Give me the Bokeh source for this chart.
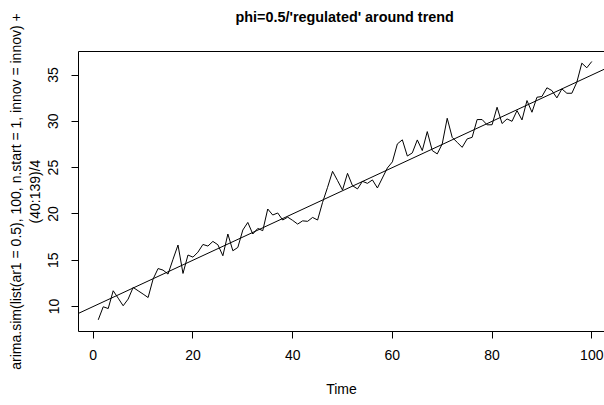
from bokeh.plotting import figure
from bokeh.models import Range1d, FixedTicker, LinearAxis, Title
from bokeh.embed import file_html
from bokeh.resources import INLINE

t = list(range(1, 101))
series = [8.56, 9.97, 9.78, 11.7, 10.9, 10.08, 10.8, 12.06, 11.7, 11.34,
          10.97, 12.96, 14.1, 13.93, 13.5, 15.1, 16.64, 13.57, 15.56, 15.33,
          15.87, 16.7, 16.53, 17.03, 16.67, 15.48, 17.83, 16.02, 16.38, 18.26,
          19.08, 17.83, 18.43, 18.19, 20.53, 19.88, 20.1, 19.34, 19.65, 19.3,
          18.9, 19.25, 19.2, 19.62, 19.34, 21.25, 22.87, 24.6, 23.6, 22.58,
          24.38, 23.05, 22.7, 23.52, 23.3, 23.67, 22.8, 23.88, 24.96, 25.62,
          27.56, 28.0, 26.25, 26.59, 27.99, 26.84, 28.89, 26.84, 26.48, 27.56,
          30.33, 28.27, 27.73, 27.19, 28.1, 28.27, 30.19, 30.19, 29.62, 29.63,
          31.52, 29.76, 30.26, 30.0, 31.16, 30.15, 32.24, 30.98, 32.6, 32.68,
          33.62, 33.32, 32.53, 33.5, 33.03, 33.03, 34.22, 36.28, 35.78, 36.46]
trend_intercept = 10.0
trend_slope = 0.25
x_ticks = [0, 20, 40, 60, 80, 100]
y_ticks = [10, 15, 20, 25, 30, 35]
title_text = "phi=0.5/'regulated' around trend"
x_label = "Time"
y_label_1 = "arima.sim(list(ar1 = 0.5), 100, n.start = 1, innov = innov) +"
y_label_2 = "(40:139)/4"

FONT = "Liberation Sans"
FS = "14px"

p = figure(width=604, height=405, output_backend="svg", toolbar_location=None,
           x_range=Range1d(-2.96, 102.55), y_range=Range1d(7.3, 37.54),
           min_border_left=78, min_border_right=0, min_border_top=51,
           min_border_bottom=74)
p.background_fill_color = "white"
p.border_fill_color = "white"
p.outline_line_color = None
p.xgrid.visible = False
p.ygrid.visible = False

for ax in (p.xaxis[0], p.yaxis[0]):
    ax.axis_line_color = "black"
    ax.axis_line_width = 1
    ax.major_tick_in = 0
    ax.major_tick_out = 7
    ax.minor_tick_line_color = None
    ax.major_tick_line_color = "black"
    ax.major_label_text_font = FONT
    ax.major_label_text_font_size = FS
    ax.major_label_text_color = "black"
    ax.axis_label_text_font = FONT
    ax.axis_label_text_font_size = FS
    ax.axis_label_text_font_style = "normal"
    ax.axis_label_text_color = "black"

p.xaxis.ticker = FixedTicker(ticks=x_ticks)
p.yaxis.ticker = FixedTicker(ticks=y_ticks)
p.xaxis.major_label_standoff = 11
p.xaxis.axis_label = x_label
p.xaxis.axis_label_standoff = 18
p.yaxis.axis_label = y_label_2
p.yaxis.major_label_orientation = "vertical"
p.yaxis.major_label_standoff = 13
p.yaxis.axis_label_standoff = 3

ylab1 = Title(text=y_label_1, align="center", text_font=FONT,
              text_font_size=FS, text_font_style="normal", standoff=0,
              text_color="black")
p.add_layout(ylab1, "left")

# top border of the box (an axis without ticks); its blank label keeps
# the gap between the box and the title
top = LinearAxis(major_tick_line_color=None, minor_tick_line_color=None,
                 major_tick_out=0, major_label_standoff=0,
                 major_label_text_font_size="0px", axis_line_color="black",
                 ticker=FixedTicker(ticks=[]), axis_label=" ",
                 axis_label_text_font_size="14px", axis_label_standoff=6)
p.add_layout(top, "above")

ttl = Title(text=title_text, align="left", text_font=FONT,
            text_font_size="14.4px", text_font_style="bold", offset=157,
            standoff=4, text_color="black")
p.add_layout(ttl, "above")

p.line(t, series, line_color="black", line_width=1)
xl = [p.x_range.start, p.x_range.end]
p.line(xl, [trend_intercept + trend_slope * v for v in xl],
       line_color="black", line_width=1)

open("out.html", "w").write(file_html(p, INLINE))
